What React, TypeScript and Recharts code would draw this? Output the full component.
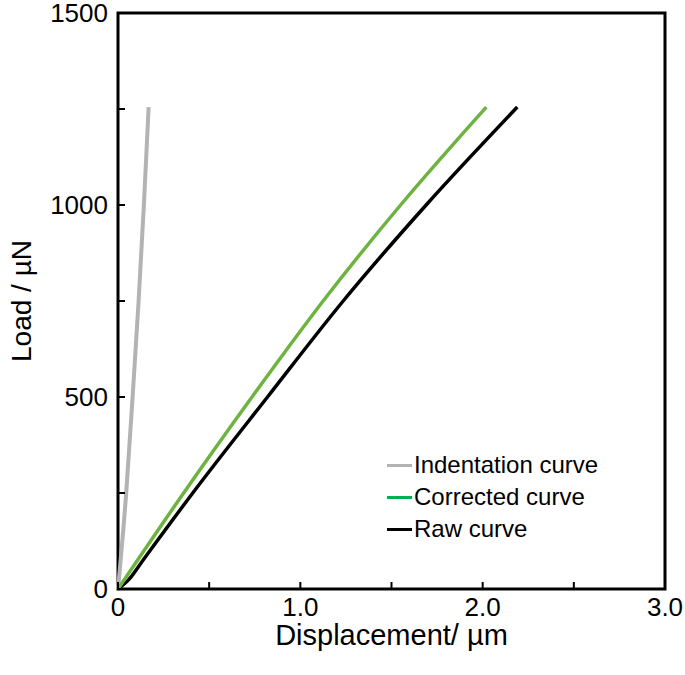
import { Label, Line, LineChart, ReferenceArea, XAxis, YAxis } from "recharts";

// Indentation curve (gray, nearly vertical)
const indentDisp = [0, 0.045, 0.08, 0.113, 0.142, 0.168];
const indentLoad = [0, 250, 500, 750, 1000, 1255];

// Corrected curve (green)
const corrDisp = [0, 0.36, 0.735, 1.125, 1.55, 2.02];
const corrLoad = [0, 250, 500, 750, 1000, 1255];

// Raw curve (black)
const rawDisp = [0, 0.06, 0.137, 0.41, 0.82, 1.235, 1.69, 2.19];
const rawLoad = [0, 25, 75, 250, 500, 750, 1000, 1255];

const xTicks = [0, 0.5, 1, 1.5, 2, 2.5, 3];
const xTickLabels = ["0", "", "1.0", "", "2.0", "", "3.0"];
const yTicks = [0, 250, 500, 750, 1000, 1250, 1500];
const yTickLabels = ["0", "", "500", "", "1000", "", "1500"];

const legendLabels = ["Indentation curve", "Corrected curve", "Raw curve"];
const legendColors = ["#b3b3b3", "#00b050", "#000000"];

const zip = (xs: number[], ys: number[]) => xs.map((x, i) => ({ x, y: ys[i] }));

const FONT = "'Liberation Sans', Arial, sans-serif";

const XTick = ({ x, y, index }: any) => (
  <g>
    <line x1={x} y1={y} x2={x} y2={y - 7} stroke="#000" strokeWidth={2} />
    {xTickLabels[index] && (
      <text x={x} y={y + 27} textAnchor="middle" fontSize={26} fontFamily={FONT} fill="#000">
        {xTickLabels[index]}
      </text>
    )}
  </g>
);

const YTick = ({ x, y, index }: any) => (
  <g>
    <line x1={x} y1={y} x2={x + 7} y2={y} stroke="#000" strokeWidth={2} />
    {yTickLabels[index] && (
      <text x={x - 10} y={y + 9} textAnchor="end" fontSize={26} fontFamily={FONT} fill="#000">
        {yTickLabels[index]}
      </text>
    )}
  </g>
);

export default function App() {
  return (
    <div style={{ position: "absolute", left: 0, top: 0, width: 685, height: 675, background: "#fff" }}>
      <LineChart width={685} height={675} margin={{ top: 13, right: 20, left: 0, bottom: 0 }}>
        <XAxis
          dataKey="x"
          type="number"
          domain={[0, 3]}
          ticks={xTicks}
          tick={<XTick />}
          tickSize={0}
          tickMargin={0}
          axisLine={false}
          tickLine={false}
          height={86}
          interval={0}
        >
          <Label
            content={({ viewBox }: any) => (
              <text
                x={viewBox.x + viewBox.width / 2}
                y={645}
                textAnchor="middle"
                fontSize={29}
                fontFamily={FONT}
                fill="#000"
              >
                Displacement/ µm
              </text>
            )}
          />
        </XAxis>
        <YAxis
          dataKey="y"
          type="number"
          domain={[0, 1500]}
          ticks={yTicks}
          tick={<YTick />}
          tickSize={0}
          tickMargin={0}
          axisLine={false}
          tickLine={false}
          width={118}
          interval={0}
        >
          <Label
            content={({ viewBox }: any) => {
              const cy = viewBox.y + viewBox.height / 2;
              return (
                <text
                  x={31}
                  y={cy}
                  transform={`rotate(-90 31 ${cy})`}
                  textAnchor="middle"
                  fontSize={28}
                  fontFamily={FONT}
                  fill="#000"
                >
                  Load / µN
                </text>
              );
            }}
          />
        </YAxis>
        <Line
          data={zip(indentDisp, indentLoad)}
          dataKey="y"
          name={legendLabels[0]}
          type="monotone"
          stroke="#b3b3b3"
          strokeWidth={4}
          dot={false}
          isAnimationActive={false}
        />
        <Line
          data={zip(rawDisp, rawLoad)}
          dataKey="y"
          name={legendLabels[2]}
          type="monotone"
          stroke="#000000"
          strokeWidth={3.5}
          dot={false}
          isAnimationActive={false}
        />
        <Line
          data={zip(corrDisp, corrLoad)}
          dataKey="y"
          name={legendLabels[1]}
          type="monotone"
          stroke="#6db33f"
          strokeWidth={3.5}
          dot={false}
          isAnimationActive={false}
        />
        <ReferenceArea x1={0} x2={3} y1={0} y2={1500} fill="none" stroke="#000" strokeWidth={3} ifOverflow="visible" />
      </LineChart>
      {/* legend drawn over the plot, outside recharts so it takes no layout space */}
      <div
        style={{
          position: "absolute",
          left: 387,
          top: 449,
          fontFamily: FONT,
          fontSize: 24,
          lineHeight: "32px",
        }}
      >
        {legendLabels.map((l, i) => (
          <div key={l} style={{ display: "flex", alignItems: "center" }}>
            <span style={{ width: 25, height: 3, background: legendColors[i], marginRight: 2 }} />
            <span>{l}</span>
          </div>
        ))}
      </div>
    </div>
  );
}
